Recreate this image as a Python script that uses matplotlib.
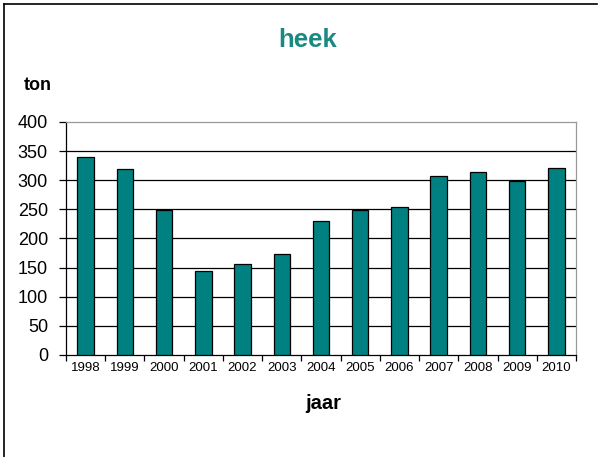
import matplotlib as mpl
import matplotlib.pyplot as plt
import numpy as np

years = ["1998", "1999", "2000", "2001", "2002", "2003", "2004",
         "2005", "2006", "2007", "2008", "2009", "2010"]
tons = [340, 319, 249, 144, 156, 173, 230, 248, 254, 307, 314, 299, 321]
y_ticks = [0, 50, 100, 150, 200, 250, 300, 350, 400]

TEAL = "#008080"

mpl.rcParams.update({
    "font.family": ["Liberation Sans", "DejaVu Sans"],
})

fig = plt.figure(figsize=(6.0, 4.57), dpi=100)
ax = fig.add_axes((0.11, 0.2232, 0.85, 0.510))

x = np.arange(len(years))
ax.bar(x, tons, width=0.42, color=TEAL, edgecolor="black", linewidth=0.9, zorder=3)

ax.set_xlim(-0.5, len(years) - 0.5)
ax.set_ylim(0, 400)
ax.set_yticks(y_ticks)
ax.set_yticklabels([str(v) for v in y_ticks], fontsize=13)
ax.set_xticks(x)
ax.set_xticklabels(years, fontsize=9.5)
ax.set_xticks(np.arange(len(years) + 1) - 0.5, minor=True)
ax.tick_params(axis="x", which="major", length=0, pad=5)
ax.tick_params(axis="x", which="minor", length=4, width=0.9, direction="out")
ax.tick_params(axis="y", length=5, width=0.9, direction="out", pad=8)

# horizontal grid
for v in y_ticks[1:-1]:
    ax.axhline(v, color="black", linewidth=0.9, zorder=1)

ax.spines["left"].set_linewidth(0.9)
ax.spines["bottom"].set_linewidth(0.9)
ax.spines["top"].set_color("#999999")
ax.spines["right"].set_color("#999999")
ax.spines["top"].set_linewidth(0.9)
ax.spines["right"].set_linewidth(0.9)

fig.text(0.512, 0.912, "heek", color="#1a8a80", fontsize=18.5, fontweight="bold",
         ha="center", va="center")
fig.text(0.040, 0.812, "ton", fontsize=13, fontweight="bold", ha="left", va="center")
fig.text(0.538, 0.118, "jaar", fontsize=14.5, fontweight="bold", ha="center", va="center")

# outer frame (left and top edges)
fig.add_artist(plt.Line2D([0.007, 0.007], [0.0, 0.991], color="black", linewidth=1.2,
                          transform=fig.transFigure))
fig.add_artist(plt.Line2D([0.007, 0.995], [0.991, 0.991], color="black", linewidth=1.2,
                          transform=fig.transFigure))

plt.savefig("out.png", dpi=100)
